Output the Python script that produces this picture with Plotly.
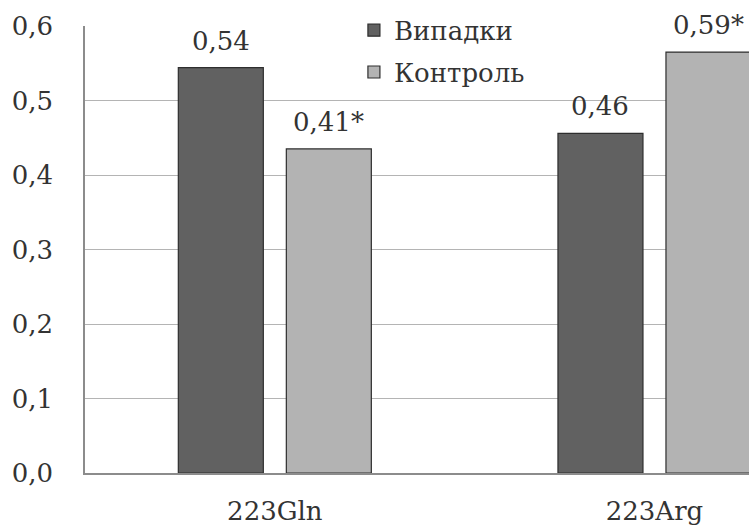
import plotly.graph_objects as go

categories = ["223Gln", "223Arg"]
series_names = ["Випадки", "Контроль"]
cases_values = [0.544, 0.456]
control_values = [0.435, 0.565]
cases_labels = ["0,54", "0,46"]
control_labels = ["0,41*", "0,59*"]
colors = ["#616161", "#b3b3b3"]

font_family = "DejaVu Serif"
txt_color = "#333333"
fs = 26

fig = go.Figure()
fig.add_trace(go.Bar(name=series_names[0], x=categories, y=cases_values,
                     marker=dict(color=colors[0], line=dict(color="#2e2e2e", width=1.2)),
                     legendgroup="a"))
fig.add_trace(go.Bar(name=series_names[1], x=categories, y=control_values,
                     marker=dict(color=colors[1], line=dict(color="#2e2e2e", width=1.2)),
                     legendgroup="b"))

bargap = 0.431
bargroupgap = 0.213
slot = (1 - bargap) / 2
for si, (vals, labs) in enumerate([(cases_values, cases_labels), (control_values, control_labels)]):
    off = (si - 0.5) * slot
    for ci, (v, lab) in enumerate(zip(vals, labs)):
        fig.add_annotation(x=ci + off, y=v, text=lab, showarrow=False,
                           yanchor="bottom", yshift=10, xref="x", yref="y",
                           font=dict(family=font_family, size=fs, color=txt_color))

fig.update_layout(
    width=749, height=526,
    margin=dict(l=85, r=0, t=26, b=53),
    paper_bgcolor="white", plot_bgcolor="white",
    separators=", ",
    barmode="group", bargap=bargap, bargroupgap=bargroupgap,
    font=dict(family=font_family, size=fs, color=txt_color),
    showlegend=True,
    legend=dict(x=0.405, y=1.043, xanchor="left", yanchor="top",
                bgcolor="rgba(0,0,0,0)", tracegroupgap=5,
                font=dict(family=font_family, size=fs, color=txt_color),
                itemwidth=30),
)
fig.update_xaxes(range=[-0.5, 1.249], showline=True, linecolor="#8c8c8c", linewidth=1.5,
                 showgrid=False, ticks="", ticklabelstandoff=14, automargin=False,
                 tickfont=dict(family=font_family, size=fs, color=txt_color))
fig.update_yaxes(range=[0, 0.6], dtick=0.1, tickformat=".1f", showline=True,
                 linecolor="#8c8c8c", linewidth=1.5, showgrid=True, gridcolor="#b4b4b4",
                 gridwidth=1.2, ticks="", ticklabelstandoff=25, zeroline=False, automargin=False,
                 tickfont=dict(family=font_family, size=fs, color=txt_color))

fig.write_html("out.html", config={"displayModeBar": False},
               post_script="document.body.style.margin='0';")
